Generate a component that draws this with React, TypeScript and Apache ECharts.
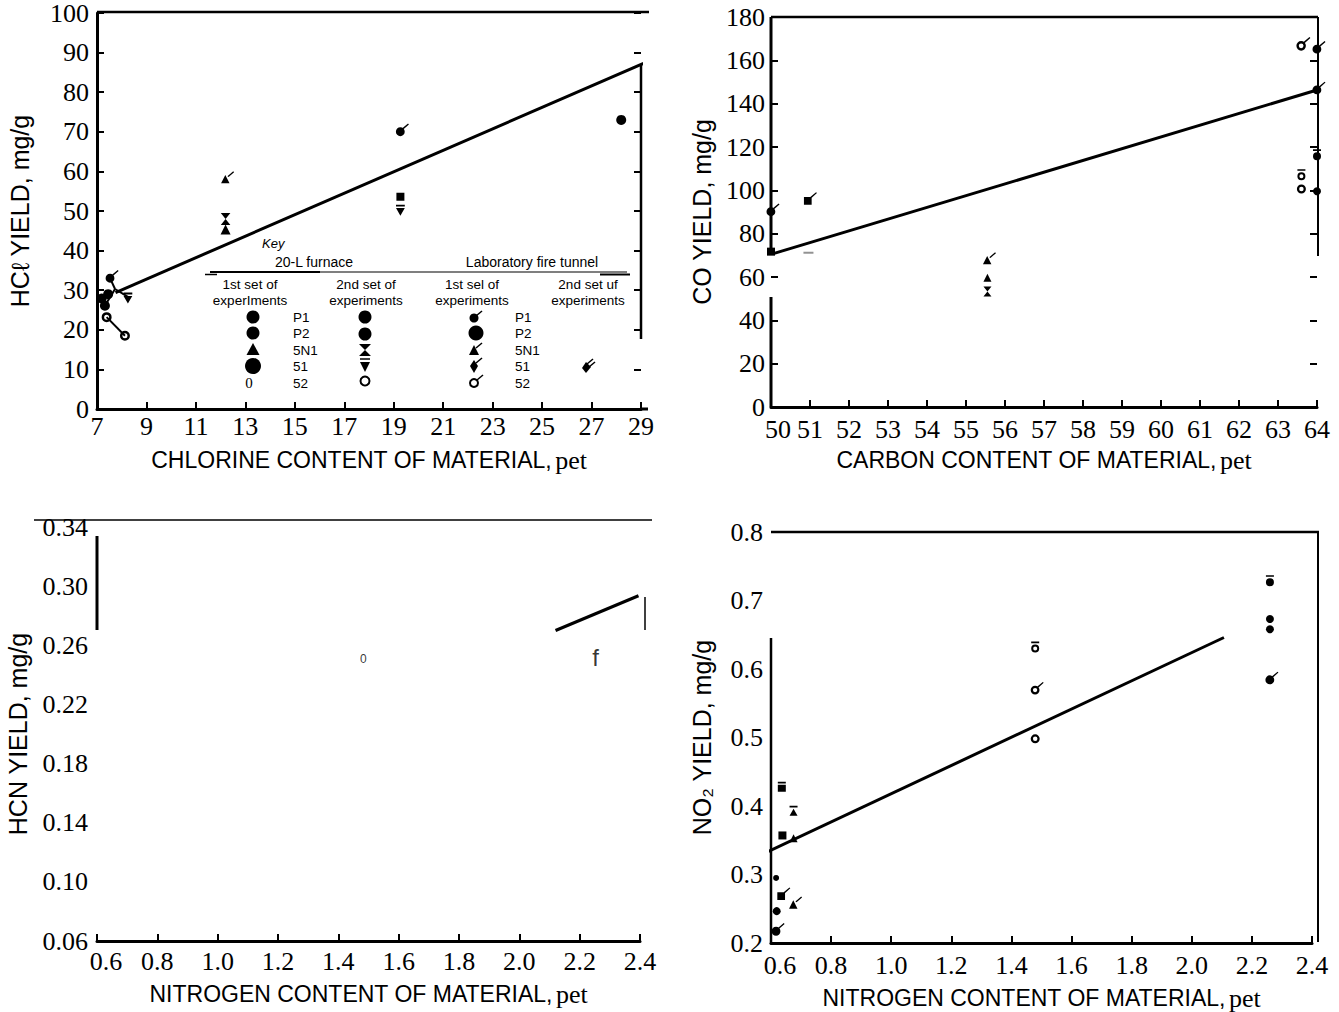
import React, { useEffect, useRef } from "react";
import * as echarts from "echarts";

// ---------- tick labels ----------
const clXTicks = [7, 9, 11, 13, 15, 17, 19, 21, 23, 25, 27, 29];
const hclYTicks = [0, 10, 20, 30, 40, 50, 60, 70, 80, 90, 100];
const cXTicks = [50, 51, 52, 53, 54, 55, 56, 57, 58, 59, 60, 61, 62, 63, 64];
const coYTicks = [0, 20, 40, 60, 80, 100, 120, 140, 160, 180];
const nXTicks = [0.6, 0.8, 1.0, 1.2, 1.4, 1.6, 1.8, 2.0, 2.2, 2.4];
const hcnYTicks = [0.06, 0.1, 0.14, 0.18, 0.22, 0.26, 0.3, 0.34];
const no2YTicks = [0.2, 0.3, 0.4, 0.5, 0.6, 0.7, 0.8];

// ---------- panel 1: HCl vs chlorine ----------
const hclCircle = [[28.2, 73], [7.19, 27.9], [7.32, 26.1], [7.45, 29]];
const hclTriangle = [[12.2, 45.3]];
const hclTickTriangle = [[12.2, 58]];
const hclHourglass = [[12.2, 48]];
const hclTickCircle = [[19.27, 70], [7.53, 33]];
const hclSquare = [[19.27, 53.6]];
const hclInvTriangle = [[19.27, 50.2], [8.25, 28]];
const hclOpen = [[8.13, 18.5], [7.39, 23.2]];
const hclFit = [[7.75, 29.4], [29.1, 87.3]];
const hclSpokes = [
  [[7.53, 33], [7.73, 30.3]],
  [[7.73, 30.3], [8.25, 28.3]],
  [[7.73, 30.3], [7.32, 26.1]],
  [[7.39, 23.2], [8.13, 18.5]],
  [[7.19, 27.9], [7.45, 29]],
];

// ---------- panel 2: CO vs carbon ----------
const coTickCircle = [[50, 90.1], [64, 165.1], [64, 146.3]];
const coSquareSmall = [[50, 71.7]];
const coTickSquare = [[50.96, 95.3]];
const coDash = [[50.96, 71.2]];
const coTickTriangle = [[55.55, 67.7]];
const coTriangle = [[55.55, 59.7]];
const coHourglass = [[55.55, 53.3]];
const coOpenTick = [[63.6, 166.7]];
const coOpenBar = [[63.6, 107.2]];
const coOpen = [[63.6, 100.6]];
const coFilledBar = [[64, 116.4]];
const coFilled = [[64, 99.6]];
const coFit = [[50.06, 70.8], [64, 146.3]];

// ---------- panel 3: HCN vs nitrogen ----------
const hcnFit = [[2.12, 0.27], [2.395, 0.2935]];
const hcnNoteSmall = [[1.483, 0.251, "0"]];
const hcnNoteBig = [[2.253, 0.252, "f"]];

// ---------- panel 4: NO2 vs nitrogen ----------
const no2Dot = [[0.617, 0.295]];
const no2Circle = [[0.619, 0.2465], [2.26, 0.673], [2.26, 0.658]];
const no2TickCircle = [[0.617, 0.217], [2.26, 0.584]];
const no2SquareBar = [[0.636, 0.428]];
const no2Square = [[0.638, 0.357]];
const no2TickSquare = [[0.636, 0.269]];
const no2TriangleBar = [[0.675, 0.393]];
const no2Triangle = [[0.675, 0.353]];
const no2TickTriangle = [[0.675, 0.256]];
const no2OpenBar = [[1.479, 0.632]];
const no2OpenTick = [[1.479, 0.569]];
const no2Open = [[1.479, 0.498]];
const no2FilledBar = [[2.26, 0.729]];
const no2Fit = [[0.583, 0.332], [2.107, 0.646]];

// ---------- legend text ----------
const legendNames = ["P1", "P2", "5N1", "51", "52"];
const legendHeaders = [
  ["1st set of", "experIments"],
  ["2nd set of", "experiments"],
  ["1st sel of", "experiments"],
  ["2nd set uf", "experiments"],
];

const BLACK = "#000";
const SERIF = '"Liberation Serif", "Times New Roman", serif';
const SANS = '"Liberation Sans", Arial, sans-serif';
const TICKFONT = 26;

const TICK = "M5.5,5.2 L11,0.6 L11.8,1.4 L6.6,6 Z";
const SYM = {
  tickCircle: "path://M0,8 A4,4 0 1,1 8,8 A4,4 0 1,1 0,8 Z " + TICK,
  tickSquare: "path://M0,5 L7,5 L7,12 L0,12 Z " + TICK,
  tickTriangle: "path://M3.5,4 L7.5,12 L-0.5,12 Z " + TICK,
  hourglass: "path://M0,0 L8,0 L4,5 L8,10 L0,10 L4,5 Z",
  invTriangle: "path://M0,0 L8,0 L8,1.6 L0,1.6 Z M0,3 L8,3 L4,10 Z",
  squareBar: "path://M0,0 L8,0 L8,1.6 L0,1.6 Z M0,3 L8,3 L8,10 L0,10 Z",
  triangleBar: "path://M0,0 L8,0 L8,1.6 L0,1.6 Z M4,3 L8,10 L0,10 Z",
  filledBar: "path://M0,0 L8,0 L8,1.6 L0,1.6 Z M0,7 A4,4 0 1,1 8,7 A4,4 0 1,1 0,7 Z",
  openBar:
    "path://M0,0 L8,0 L8,1.6 L0,1.6 Z M0,7 A4,4 0 1,1 8,7 A4,4 0 1,1 0,7 Z M2,7 A2,2 0 1,0 6,7 A2,2 0 1,0 2,7 Z",
  open: "path://M0,4 A4,4 0 1,1 8,4 A4,4 0 1,1 0,4 Z M2,4 A2,2 0 1,0 6,4 A2,2 0 1,0 2,4 Z",
  openTick:
    "path://M0,8 A4,4 0 1,1 8,8 A4,4 0 1,1 0,8 Z M2,8 A2,2 0 1,0 6,8 A2,2 0 1,0 2,8 Z " + TICK,
};

const step = (t: number[]) => Math.round((t[1] - t[0]) * 1000) / 1000;

function xAx(gi: number, ticks: number[], title: string, gap: number, margin: number, minPad: number, digits: number) {
  const lo = ticks[0];
  return {
    type: "value",
    gridIndex: gi,
    min: lo,
    max: ticks[ticks.length - 1],
    interval: step(ticks),
    axisLine: { show: true, onZero: false, lineStyle: { color: BLACK, width: 3 } },
    axisTick: { show: true, inside: true, length: 7, lineStyle: { color: BLACK, width: 2 } },
    axisLabel: {
      color: BLACK,
      fontFamily: SERIF,
      fontSize: TICKFONT,
      margin,
      showMinLabel: true,
      showMaxLabel: true,
      formatter: (v: number) => {
        const s = v.toFixed(digits);
        return Math.abs(v - lo) < 1e-9 && minPad > 0 ? `{m|${s}}` : s;
      },
      rich: {
        m: { padding: [0, 0, 0, minPad], fontFamily: SERIF, fontSize: TICKFONT, color: BLACK },
      },
    },
    splitLine: { show: false },
    name: `{a|${title}} {b|pet}`,
    nameLocation: "middle",
    nameGap: gap,
    nameTextStyle: {
      rich: {
        a: { fontFamily: SANS, fontSize: 23, color: BLACK },
        b: { fontFamily: SERIF, fontSize: 26, color: BLACK },
      },
    },
  };
}

function yAx(gi: number, ticks: number[], title: string, gap: number, margin: number, showLine: boolean, showTick: boolean, digits: number) {
  return {
    type: "value",
    gridIndex: gi,
    min: ticks[0],
    max: ticks[ticks.length - 1],
    interval: step(ticks),
    axisLine: { show: showLine, onZero: false, lineStyle: { color: BLACK, width: 3 } },
    axisTick: { show: showTick, inside: true, length: 7, lineStyle: { color: BLACK, width: 2 } },
    axisLabel: {
      color: BLACK,
      fontFamily: SERIF,
      fontSize: TICKFONT,
      margin,
      formatter: (v: number) => v.toFixed(digits),
      showMinLabel: true,
      showMaxLabel: true,
    },
    splitLine: { show: false },
    name: title,
    nameLocation: "middle",
    nameGap: gap,
    nameTextStyle: { fontFamily: SANS, fontSize: 25, color: BLACK },
  };
}

function rightAx(gi: number, ticks: number[]) {
  return {
    type: "value",
    gridIndex: gi,
    position: "right",
    min: ticks[0],
    max: ticks[ticks.length - 1],
    interval: step(ticks),
    axisLine: { show: false },
    axisTick: { show: true, inside: true, length: 7, lineStyle: { color: BLACK, width: 2 } },
    axisLabel: { show: false },
    splitLine: { show: false },
  };
}

function sc(gi: number, data: any[], symbol: string, size: any, extra: any = {}) {
  return {
    type: "scatter",
    xAxisIndex: gi,
    yAxisIndex: gi,
    data,
    symbol,
    symbolSize: size,
    symbolKeepAspect: true,
    itemStyle: { color: BLACK, opacity: 1 },
    silent: true,
    z: 5,
    ...extra,
  };
}

function fit(gi: number, data: number[][], width = 3) {
  return {
    type: "line",
    xAxisIndex: gi,
    yAxisIndex: gi,
    data,
    symbol: "none",
    lineStyle: { color: BLACK, width },
    silent: true,
    z: 4,
  };
}

function note(gi: number, data: any[], size: number) {
  return {
    type: "scatter",
    xAxisIndex: gi,
    yAxisIndex: gi,
    data,
    symbolSize: 0,
    label: {
      show: true,
      position: "inside",
      formatter: (p: any) => p.data[2],
      fontFamily: SANS,
      fontSize: size,
      color: BLACK,
    },
    silent: true,
  };
}

function seg(x1: number, y1: number, x2: number, y2: number, w: number) {
  return { type: "line", shape: { x1, y1, x2, y2 }, style: { stroke: BLACK, lineWidth: w }, silent: true };
}
function txt(x: number, y: number, text: string, size: number, align = "center", extra: any = {}) {
  return {
    type: "text",
    x,
    y,
    style: { text, fontFamily: SANS, fontSize: size, fill: BLACK, align, verticalAlign: "middle", ...extra },
    silent: true,
  };
}
function dot(cx: number, cy: number, r: number) {
  return { type: "circle", shape: { cx, cy, r }, style: { fill: BLACK }, silent: true };
}
function ring(cx: number, cy: number, r: number) {
  return { type: "circle", shape: { cx, cy, r }, style: { fill: "#fff", stroke: BLACK, lineWidth: 2 }, silent: true };
}
function poly(points: number[][]) {
  return { type: "polygon", shape: { points }, style: { fill: BLACK }, silent: true };
}
function tickMark(x: number, y: number) {
  return seg(x, y, x + 6, y - 5, 1.5);
}

function buildLegend() {
  const rows = [317, 333, 350, 366, 383];
  const g: any[] = [];
  g.push(txt(262, 243, "Key", 13, "left", { fontStyle: "italic" }));
  g.push(txt(314, 262, "20-L furnace", 14));
  g.push(txt(532, 262, "Laboratory fire tunnel", 14));
  g.push(seg(210, 272, 627, 272, 1.2));
  g.push(seg(210, 272, 320, 272, 2));
  g.push(seg(205, 274.5, 217, 274.5, 1.5));
  g.push(seg(600, 274.5, 630, 274.5, 2));
  const cols = [250, 366, 472, 588];
  legendHeaders.forEach((h, i) => {
    g.push(txt(cols[i], 284, h[0], 13.5));
    g.push(txt(cols[i], 300, h[1], 13.5));
  });
  legendNames.forEach((n, i) => {
    g.push(txt(293, rows[i], n, 13.5, "left"));
    g.push(txt(515, rows[i], n, 13.5, "left"));
  });
  // column 1
  g.push(dot(253, rows[0], 6.5));
  g.push(dot(253, rows[1], 6.5));
  g.push(poly([[253, rows[2] - 7], [259.5, rows[2] + 5], [246.5, rows[2] + 5]]));
  g.push(dot(253, rows[3], 8));
  g.push({ type: "text", x: 249, y: rows[4], style: { text: "0", fontFamily: SERIF, fontSize: 15, fill: BLACK, align: "center", verticalAlign: "middle" }, silent: true });
  // column 2
  g.push(dot(365, rows[0], 6.5));
  g.push(dot(365, rows[1] + 1, 6.5));
  g.push(poly([[359, rows[2] - 6], [371, rows[2] - 6], [365, rows[2]], [371, rows[2] + 6], [359, rows[2] + 6], [365, rows[2]]]));
  g.push(seg(360, rows[3] - 7, 370, rows[3] - 7, 1.5));
  g.push(poly([[360, rows[3] - 4], [370, rows[3] - 4], [365, rows[3] + 6]]));
  g.push(ring(365, rows[4] - 2, 4.5));
  // column 3
  g.push(dot(474, rows[0] + 1, 4.5));
  g.push(tickMark(476, rows[0] - 1));
  g.push(dot(476, rows[1], 7.5));
  g.push(poly([[474, rows[2] - 5], [479, rows[2] + 5], [469, rows[2] + 5]]));
  g.push(tickMark(476, rows[2] - 2));
  g.push(poly([[474, rows[3] - 6], [478, rows[3]], [474, rows[3] + 7], [470, rows[3]]]));
  g.push(tickMark(476, rows[3] - 3));
  g.push(ring(474, rows[4], 4));
  g.push(tickMark(477, rows[4] - 3));
  // column 4
  g.push(poly([[586, rows[3] - 4], [591, rows[3] + 1], [586, rows[3] + 7], [582, rows[3] + 2]]));
  g.push(tickMark(587, rows[3] - 2));
  g.push(tickMark(589, rows[3] + 1));
  return g;
}

function buildFrames() {
  return [
    // panel 1
    seg(97, 12, 649, 12, 2.5),
    seg(641, 64, 641, 339, 2.5),
    seg(640, 409, 648, 409, 3),
    // panel 2
    seg(771, 17, 1318, 17, 2.5),
    seg(771, 17, 771, 254, 3),
    seg(771, 297, 771, 407, 3),
    seg(1318, 17, 1318, 256, 2),
    // panel 3
    seg(34, 520, 652, 520, 1.5),
    seg(97, 536, 97, 630, 3),
    seg(645, 597, 645, 630, 1.5),
    // panel 4
    seg(771, 532, 1319, 532, 2.5),
    seg(771, 638, 771, 944, 2.5),
    seg(1318, 532, 1318, 942, 2),
  ];
}

export default function App() {
  const ref = useRef<HTMLDivElement>(null);
  useEffect(() => {
    if (!ref.current) return;
    const chart = echarts.init(ref.current, null, { renderer: "svg" });
    const option: any = {
      animation: false,
      backgroundColor: "#fff",
      grid: [
        { left: 97, top: 13, width: 544, height: 396 },
        { left: 771, top: 17, width: 546, height: 390 },
        { left: 97, top: 527, width: 543, height: 414 },
        { left: 771, top: 532, width: 541, height: 412 },
      ],
      xAxis: [
        xAx(0, clXTicks, "CHLORINE CONTENT OF MATERIAL,", 38, 4, 0, 0),
        xAx(1, cXTicks, "CARBON CONTENT OF MATERIAL,", 40, 9, 14, 0),
        xAx(2, nXTicks, "NITROGEN CONTENT OF MATERIAL,", 40, 7, 18, 1),
        xAx(3, nXTicks, "NITROGEN CONTENT OF MATERIAL,", 42, 9, 18, 1),
      ],
      yAxis: [
        yAx(0, hclYTicks, "HCℓ YIELD, mg/g", 65, 8, true, true, 0),
        yAx(1, coYTicks, "CO YIELD, mg/g", 57, 6, false, true, 0),
        yAx(2, hcnYTicks, "HCN YIELD, mg/g", 67, 9, false, false, 2),
        yAx(3, no2YTicks, "NO₂ YIELD, mg/g", 57, 8, false, false, 1),
        rightAx(0, hclYTicks),
        rightAx(1, coYTicks),
      ],
      series: [
        // panel 1
        fit(0, hclFit),
        ...hclSpokes.map((s) => fit(0, s, 2)),
        sc(0, hclCircle, "circle", 10),
        sc(0, hclTriangle, "triangle", 10),
        sc(0, hclTickTriangle, SYM.tickTriangle, 13, { symbolOffset: [2, -2] }),
        sc(0, hclHourglass, SYM.hourglass, 12),
        sc(0, hclTickCircle, SYM.tickCircle, 13, { symbolOffset: [2, -2] }),
        sc(0, hclSquare, "rect", 8),
        sc(0, hclInvTriangle, SYM.invTriangle, 11),
        sc(0, hclOpen, SYM.open, 10),
        // panel 2
        fit(1, coFit),
        sc(1, coTickCircle, SYM.tickCircle, 13, { symbolOffset: [2, -2] }),
        sc(1, coSquareSmall, "rect", 8),
        sc(1, coTickSquare, SYM.tickSquare, 13, { symbolOffset: [2, -2] }),
        sc(1, coDash, "rect", [10, 2], { itemStyle: { color: "#777" } }),
        sc(1, coTickTriangle, SYM.tickTriangle, 13, { symbolOffset: [2, -2] }),
        sc(1, coTriangle, "triangle", 8),
        sc(1, coHourglass, SYM.hourglass, 10),
        sc(1, coOpenTick, SYM.openTick, 14, { symbolOffset: [2, -2] }),
        sc(1, coOpenBar, SYM.openBar, 11),
        sc(1, coOpen, SYM.open, 9),
        sc(1, coFilledBar, SYM.filledBar, 11),
        sc(1, coFilled, "circle", 8),
        // panel 3
        fit(2, hcnFit),
        note(2, hcnNoteSmall, 12),
        note(2, hcnNoteBig, 24),
        // panel 4
        fit(3, no2Fit),
        sc(3, no2Dot, "circle", 6),
        sc(3, no2Circle, "circle", 8),
        sc(3, no2TickCircle, SYM.tickCircle, 13, { symbolOffset: [2, -2] }),
        sc(3, no2SquareBar, SYM.squareBar, 10),
        sc(3, no2Square, "rect", 8),
        sc(3, no2TickSquare, SYM.tickSquare, 13, { symbolOffset: [2, -2] }),
        sc(3, no2TriangleBar, SYM.triangleBar, 10),
        sc(3, no2Triangle, "triangle", 8),
        sc(3, no2TickTriangle, SYM.tickTriangle, 13, { symbolOffset: [2, -2] }),
        sc(3, no2OpenBar, SYM.openBar, 11),
        sc(3, no2OpenTick, SYM.openTick, 13, { symbolOffset: [2, -2] }),
        sc(3, no2Open, SYM.open, 9),
        sc(3, no2FilledBar, SYM.filledBar, 11),
      ],
      graphic: [...buildFrames(), ...buildLegend()],
    };
    chart.setOption(option);
    return () => chart.dispose();
  }, []);
  return (
    <div
      ref={ref}
      style={{ position: "fixed", left: 0, top: 0, width: 1339, height: 1012, background: "#fff" }}
    />
  );
}
